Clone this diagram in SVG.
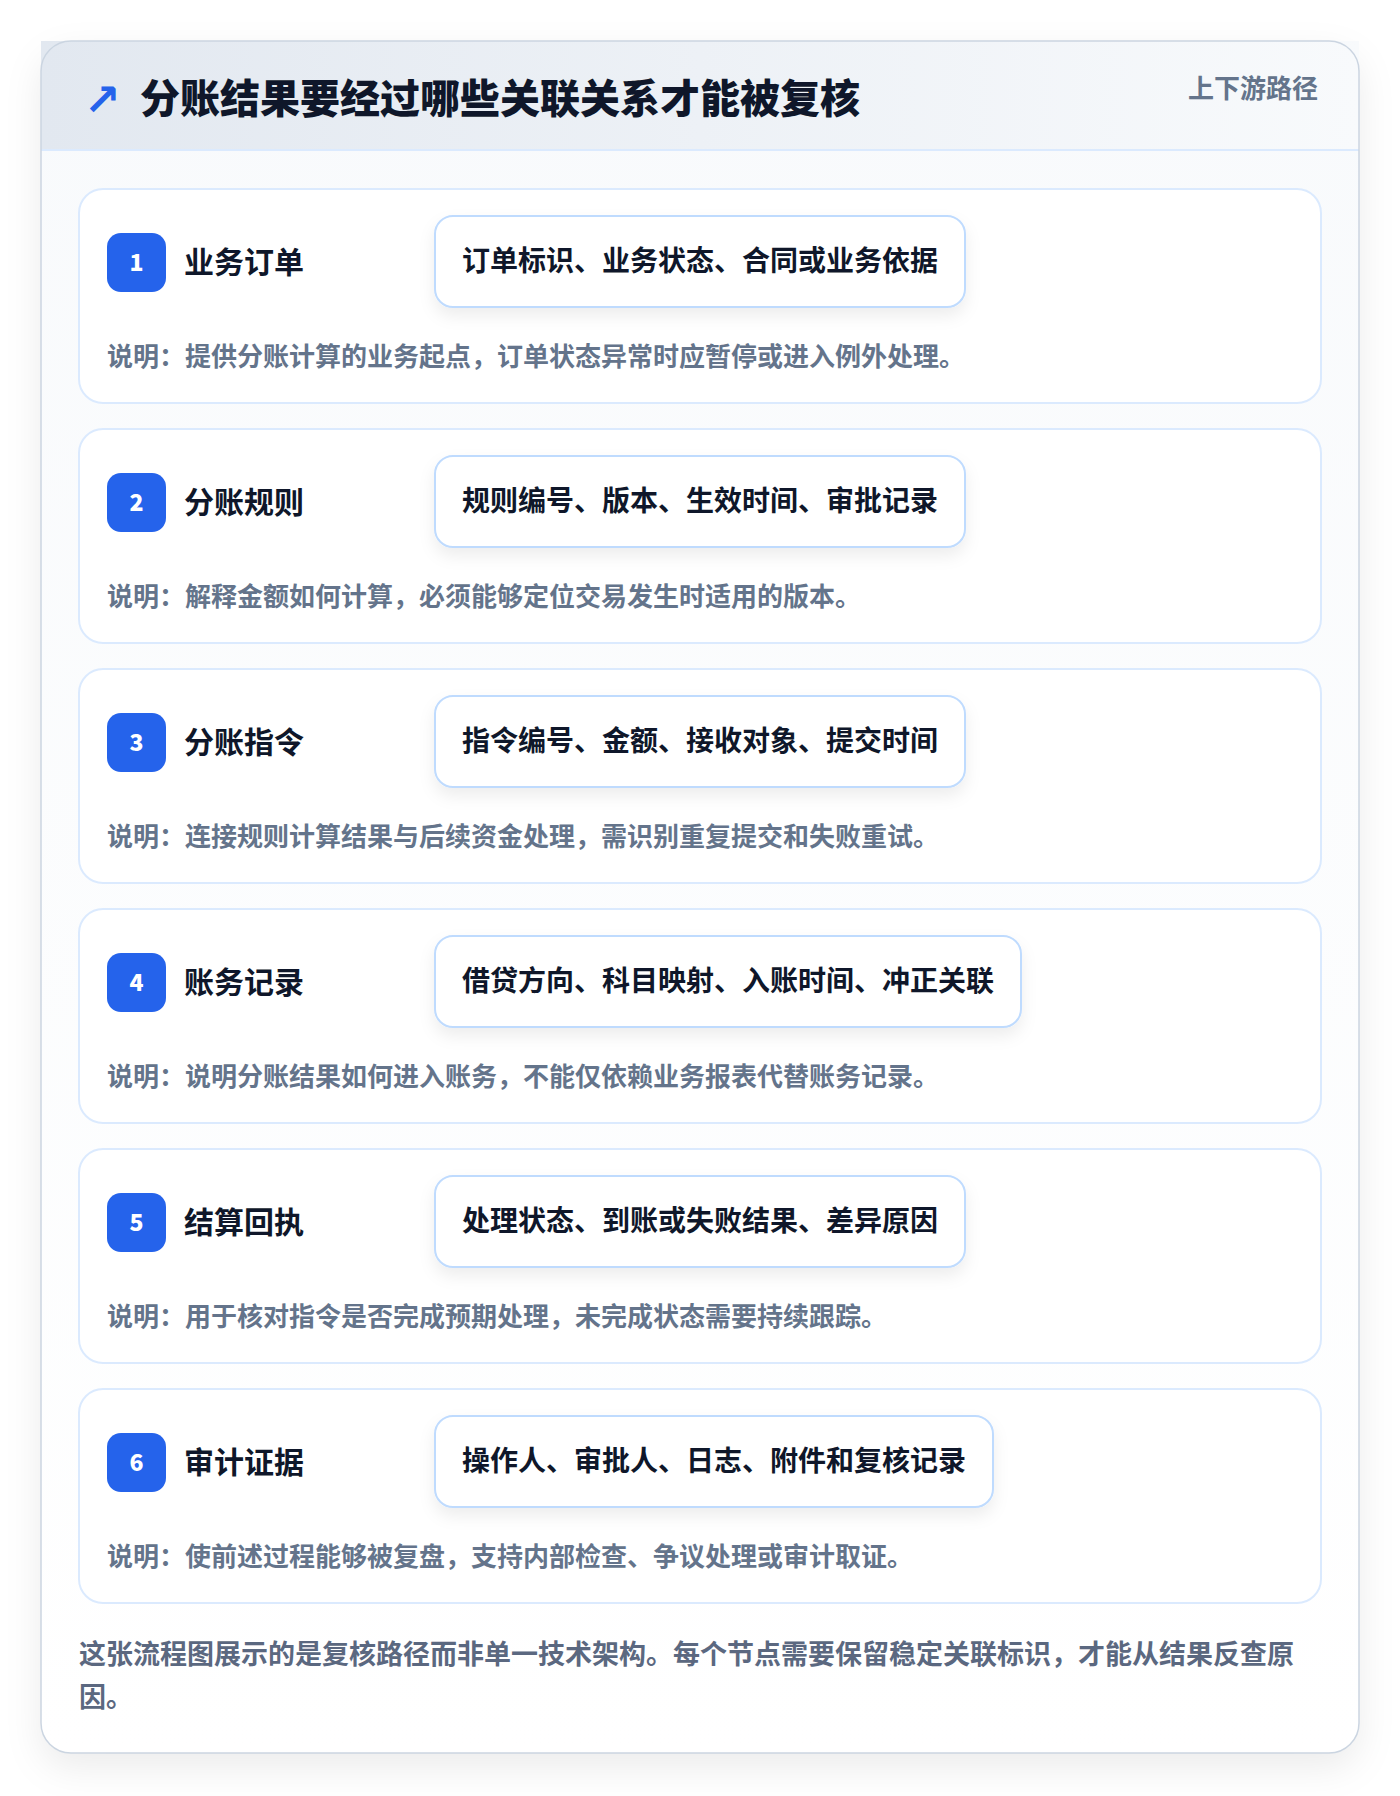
<svg xmlns="http://www.w3.org/2000/svg" width="1400" height="1796" viewBox="0 0 1400 1796">
<style>
text{font-family:"Noto Sans CJK SC","Noto Sans",sans-serif;font-weight:700}
.title{font-size:40px;fill:#0f172a;font-weight:900}
.tag{font-size:26px;fill:#64748b}
.card{fill:#ffffff;stroke:#dbeafe;stroke-width:2}
.badge{fill:#2563eb}
.num{font-size:23px;fill:#ffffff;text-anchor:middle;font-weight:900}
.label{font-size:30px;fill:#0f172a}
.field{fill:#ffffff;stroke:#bfdbfe;stroke-width:2}
.ftext{font-size:28px;fill:#0f172a}
.desc{font-size:26px;fill:#64748b}
.foot{font-size:27px;fill:#5b6880}
</style>
<defs>
<filter id="outerShadow" x="-10%" y="-10%" width="120%" height="120%">
<feDropShadow dx="0" dy="14" stdDeviation="18" flood-color="#0f172a" flood-opacity="0.08"/>
</filter>
<filter id="boxShadow" x="-10%" y="-20%" width="120%" height="160%">
<feDropShadow dx="0" dy="8" stdDeviation="8" flood-color="#0f172a" flood-opacity="0.07"/>
</filter>
<linearGradient id="hdr" x1="0" y1="0" x2="1" y2="0">
<stop offset="0" stop-color="#e2e8f0"/>
<stop offset="1" stop-color="#f8fafc"/>
</linearGradient>
<linearGradient id="body" x1="0" y1="0" x2="0" y2="1">
<stop offset="0" stop-color="#f8fafc"/>
<stop offset="1" stop-color="#ffffff"/>
</linearGradient>
</defs>
<rect x="0" y="0" width="1400" height="1796" fill="#ffffff"/>
<g id="frame">
<rect x="41" y="41" width="1318" height="1712" rx="30" fill="url(#body)" filter="url(#outerShadow)"/>
<rect x="41" y="41" width="1318" height="110" fill="url(#hdr)"/>
<line x1="41" y1="150" x2="1359" y2="150" stroke="#dbeafe" stroke-width="2"/>
<rect x="41" y="41" width="1318" height="1712" rx="30" fill="none" stroke="#cbd5e1" stroke-width="1.5"/>
<text x="84" y="115" style="font-family:'DejaVu Sans',sans-serif;font-size:44px;fill:#2563eb;font-weight:700">↗</text>
<text class="title" x="140" y="113">分账结果要经过哪些关联关系才能被复核</text>
<text class="tag" x="1318" y="98" text-anchor="end">上下游路径</text>
</g>
<g id="connectors"></g>
<g id="node-1" transform="translate(0,189)">
<rect class="card" x="79" y="0" width="1242" height="214" rx="24"/>
<rect class="badge" x="107" y="44" width="59" height="59" rx="14"/>
<text class="num" x="136.5" y="82">1</text>
<text class="label" x="184" y="84">业务订单</text>
<rect class="field" x="435" y="27" width="530" height="91" rx="18" filter="url(#boxShadow)"/>
<text class="ftext" x="462" y="82">订单标识、业务状态、合同或业务依据</text>
<text class="desc" x="107" y="177">说明：提供分账计算的业务起点，订单状态异常时应暂停或进入例外处理。</text>
</g>
<g id="node-2" transform="translate(0,429)">
<rect class="card" x="79" y="0" width="1242" height="214" rx="24"/>
<rect class="badge" x="107" y="44" width="59" height="59" rx="14"/>
<text class="num" x="136.5" y="82">2</text>
<text class="label" x="184" y="84">分账规则</text>
<rect class="field" x="435" y="27" width="530" height="91" rx="18" filter="url(#boxShadow)"/>
<text class="ftext" x="462" y="82">规则编号、版本、生效时间、审批记录</text>
<text class="desc" x="107" y="177">说明：解释金额如何计算，必须能够定位交易发生时适用的版本。</text>
</g>
<g id="node-3" transform="translate(0,669)">
<rect class="card" x="79" y="0" width="1242" height="214" rx="24"/>
<rect class="badge" x="107" y="44" width="59" height="59" rx="14"/>
<text class="num" x="136.5" y="82">3</text>
<text class="label" x="184" y="84">分账指令</text>
<rect class="field" x="435" y="27" width="530" height="91" rx="18" filter="url(#boxShadow)"/>
<text class="ftext" x="462" y="82">指令编号、金额、接收对象、提交时间</text>
<text class="desc" x="107" y="177">说明：连接规则计算结果与后续资金处理，需识别重复提交和失败重试。</text>
</g>
<g id="node-4" transform="translate(0,909)">
<rect class="card" x="79" y="0" width="1242" height="214" rx="24"/>
<rect class="badge" x="107" y="44" width="59" height="59" rx="14"/>
<text class="num" x="136.5" y="82">4</text>
<text class="label" x="184" y="84">账务记录</text>
<rect class="field" x="435" y="27" width="586" height="91" rx="18" filter="url(#boxShadow)"/>
<text class="ftext" x="462" y="82">借贷方向、科目映射、入账时间、冲正关联</text>
<text class="desc" x="107" y="177">说明：说明分账结果如何进入账务，不能仅依赖业务报表代替账务记录。</text>
</g>
<g id="node-5" transform="translate(0,1149)">
<rect class="card" x="79" y="0" width="1242" height="214" rx="24"/>
<rect class="badge" x="107" y="44" width="59" height="59" rx="14"/>
<text class="num" x="136.5" y="82">5</text>
<text class="label" x="184" y="84">结算回执</text>
<rect class="field" x="435" y="27" width="530" height="91" rx="18" filter="url(#boxShadow)"/>
<text class="ftext" x="462" y="82">处理状态、到账或失败结果、差异原因</text>
<text class="desc" x="107" y="177">说明：用于核对指令是否完成预期处理，未完成状态需要持续跟踪。</text>
</g>
<g id="node-6" transform="translate(0,1389)">
<rect class="card" x="79" y="0" width="1242" height="214" rx="24"/>
<rect class="badge" x="107" y="44" width="59" height="59" rx="14"/>
<text class="num" x="136.5" y="82">6</text>
<text class="label" x="184" y="84">审计证据</text>
<rect class="field" x="435" y="27" width="558" height="91" rx="18" filter="url(#boxShadow)"/>
<text class="ftext" x="462" y="82">操作人、审批人、日志、附件和复核记录</text>
<text class="desc" x="107" y="177">说明：使前述过程能够被复盘，支持内部检查、争议处理或审计取证。</text>
</g>
<g id="footer">
<text class="foot" x="79" y="1664">这张流程图展示的是复核路径而非单一技术架构。每个节点需要保留稳定关联标识，才能从结果反查原</text>
<text class="foot" x="79" y="1707">因。</text>
</g>
</svg>
